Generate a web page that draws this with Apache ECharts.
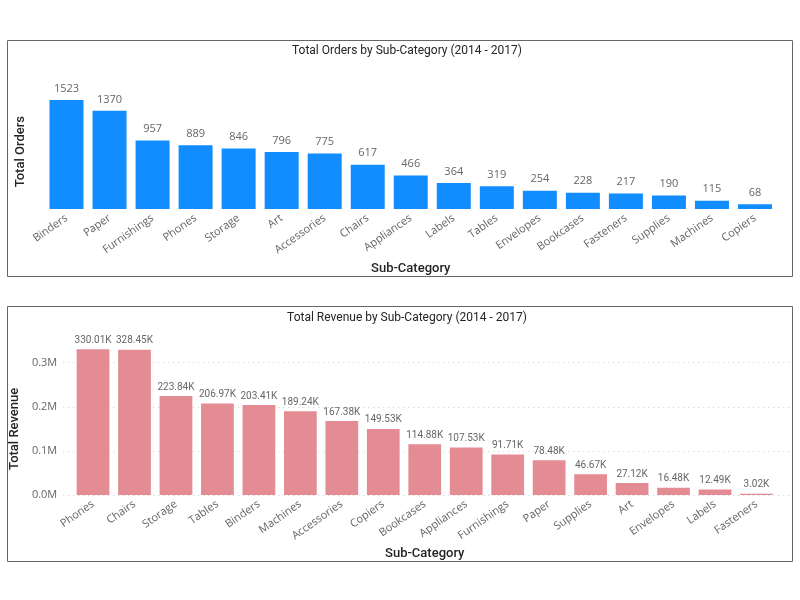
<!DOCTYPE html>
<html><head><meta charset="utf-8">
<script src="https://cdn.jsdelivr.net/npm/echarts@6/dist/echarts.min.js"></script>
<style>html,body{margin:0;padding:0;background:#fff}#c{width:800px;height:600px}</style>
</head><body><div id="c"></div>
<script>
const orderCategories = ['Binders','Paper','Furnishings','Phones','Storage','Art','Accessories','Chairs','Appliances','Labels','Tables','Envelopes','Bookcases','Fasteners','Supplies','Machines','Copiers'];
const orderValues = [1523,1370,957,889,846,796,775,617,466,364,319,254,228,217,190,115,68];
const revenueCategories = ['Phones','Chairs','Storage','Tables','Binders','Machines','Accessories','Copiers','Bookcases','Appliances','Furnishings','Paper','Supplies','Art','Envelopes','Labels','Fasteners'];
const revenueValues = [330010,328450,223840,206970,203410,189240,167380,149530,114880,107530,91710,78480,46670,27120,16480,12490,3020];
const revenueTicks = [0,100000,200000,300000];

const chart = echarts.init(document.getElementById('c'));
const titleFont = 'Roboto, "DejaVu Sans", sans-serif';
const labelFont = '"Open Sans", "DejaVu Sans", sans-serif';
const catLabel = {rotate:35, color:'#666', fontSize:11, fontFamily:labelFont, margin:8, interval:0};
const axisTitle = {fontSize:13, color:'#252423', fontFamily:titleFont, fontWeight:500};
chart.setOption({
  animation:false,
  backgroundColor:'#fff',
  graphic:[
    {type:'rect', shape:{x:7.5,y:40.5,width:785,height:236}, style:{fill:'none', stroke:'#666', lineWidth:1}},
    {type:'rect', shape:{x:7.5,y:306.5,width:785,height:255}, style:{fill:'none', stroke:'#666', lineWidth:1}}
  ],
  title:[
    {text:'Total Orders by Sub-Category (2014 - 2017)', left:402, top:40, textAlign:'center', textStyle:{fontSize:12, fontWeight:'normal', color:'#252423', fontFamily:titleFont}},
    {text:'Total Revenue by Sub-Category (2014 - 2017)', left:402, top:307, textAlign:'center', textStyle:{fontSize:12, fontWeight:'normal', color:'#252423', fontFamily:titleFont}}
  ],
  grid:[
    {left:45, right:23.5, top:94.4, height:114.6},
    {left:72.3, right:22.8, top:340.3, height:154.7},
    {left:58, right:10, top:362.7, height:132.3}
  ],
  xAxis:[
    {type:'category', gridIndex:0, data:orderCategories, axisLine:{show:false}, axisTick:{show:false}, axisLabel:catLabel,
     name:'Sub-Category', nameLocation:'middle', nameGap:53, nameTextStyle:axisTitle},
    {type:'category', gridIndex:1, data:revenueCategories, axisLine:{show:false}, axisTick:{show:false}, axisLabel:catLabel,
     name:'Sub-Category', nameLocation:'middle', nameGap:52, nameTextStyle:axisTitle},
    {type:'value', gridIndex:2, show:false, min:0, max:1}
  ],
  yAxis:[
    {type:'value', gridIndex:0, min:0, max:1600, axisLabel:{show:false}, splitLine:{show:false}, axisLine:{show:false}, axisTick:{show:false},
     name:'Total Orders', nameLocation:'middle', nameGap:18, nameRotate:90, nameTextStyle:axisTitle},
    {type:'value', gridIndex:1, min:0, max:350000, axisLabel:{show:false}, splitLine:{show:false}, axisLine:{show:false}, axisTick:{show:false}},
    {type:'value', gridIndex:2, min:revenueTicks[0], max:revenueTicks[revenueTicks.length-1], interval:revenueTicks[1]-revenueTicks[0],
     axisLine:{show:false}, axisTick:{show:false},
     axisLabel:{color:'#666', fontSize:11, fontFamily:labelFont, margin:6, formatter:v=>(v/1000000).toFixed(1)+'M'},
     splitLine:{show:true, lineStyle:{type:[1,4], color:'#ccc', width:1}},
     name:'Total Revenue', nameLocation:'middle', nameGap:31, nameRotate:90, nameTextStyle:axisTitle}
  ],
  series:[
    {type:'bar', xAxisIndex:0, yAxisIndex:0, data:orderValues, barWidth:'79%', itemStyle:{color:'#118DFF'},
     label:{show:true, position:'top', distance:6, color:'#666', fontSize:11, fontFamily:labelFont}},
    {type:'bar', xAxisIndex:1, yAxisIndex:1, data:revenueValues, barWidth:'79%', itemStyle:{color:'#E48C94'},
     label:{show:true, position:'top', distance:4, color:'#666', fontSize:10, fontFamily:titleFont, formatter:p=>(p.value/1000).toFixed(2)+'K'}}
  ]
});
</script></body></html>
